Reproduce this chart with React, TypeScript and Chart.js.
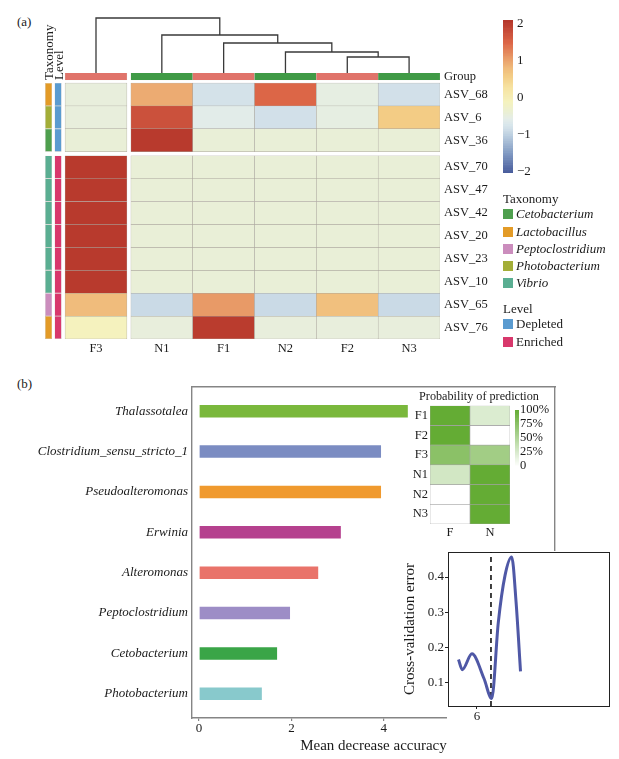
import React, { useEffect, useRef } from 'react';
import { Chart, registerables } from 'chart.js';

Chart.register(...registerables);

const SERIF = "'Liberation Serif', 'Times New Roman', Times, serif";
const INK = '#1b1b1b';
Chart.defaults.font.family = SERIF;
Chart.defaults.color = INK;

// ================= Panel (a): clustered heatmap =================
const heatColumns = ['F3', 'N1', 'F1', 'N2', 'F2', 'N3'];
const columnGroups = ['F', 'N', 'F', 'N', 'F', 'N'];
const heatRowNames = ['ASV_68', 'ASV_6', 'ASV_36', 'ASV_70', 'ASV_47', 'ASV_42', 'ASV_20', 'ASV_23', 'ASV_10', 'ASV_65', 'ASV_76'];
const rowTaxonomy = ['Lactobacillus', 'Photobacterium', 'Cetobacterium', 'Vibrio', 'Vibrio', 'Vibrio', 'Vibrio', 'Vibrio', 'Vibrio', 'Peptoclostridium', 'Lactobacillus'];
const rowLevel = ['Depleted', 'Depleted', 'Depleted', 'Enriched', 'Enriched', 'Enriched', 'Enriched', 'Enriched', 'Enriched', 'Enriched', 'Enriched'];

// z-scores per row, columns in heatColumns order
const zASV68 = [-0.45, 0.95, -0.78, 1.5, -0.5, -0.8];
const zASV6 = [-0.45, 1.75, -0.58, -0.8, -0.5, 0.6];
const zASV36 = [-0.41, 2.04, -0.41, -0.41, -0.41, -0.41];
const zASV70 = [2.04, -0.41, -0.41, -0.41, -0.41, -0.41];
const zASV47 = [2.04, -0.41, -0.41, -0.41, -0.41, -0.41];
const zASV42 = [2.04, -0.41, -0.41, -0.41, -0.41, -0.41];
const zASV20 = [2.04, -0.41, -0.41, -0.41, -0.41, -0.41];
const zASV23 = [2.04, -0.41, -0.41, -0.41, -0.41, -0.41];
const zASV10 = [2.04, -0.41, -0.41, -0.41, -0.41, -0.41];
const zASV65 = [0.8, -0.88, 1.1, -0.88, 0.75, -0.88];
const zASV76 = [-0.1, -0.45, 2.02, -0.45, -0.45, -0.45];
const heatValues = [zASV68, zASV6, zASV36, zASV70, zASV47, zASV42, zASV20, zASV23, zASV10, zASV65, zASV76];

const columnCutAfter = 1; // cutree gap after the first column
const rowCutAfter = 3; // cutree gap after the third row

// column dendrogram: [left node, right node, merge height]; mK = K-th merge
const dendrogramMerges: [string, string, number][] = [
  ['F2', 'N3', 1.6],
  ['N2', 'm0', 2.1],
  ['F1', 'm1', 3.0],
  ['N1', 'm2', 3.8],
  ['F3', 'm3', 5.5],
];

const zTicks = [-2, -1, 0, 1, 2];
const zRange = [-2.03, 2.11];

const taxonomyNames = ['Cetobacterium', 'Lactobacillus', 'Peptoclostridium', 'Photobacterium', 'Vibrio'];
const taxonomyColors: Record<string, string> = {
  Cetobacterium: '#4E9F4E',
  Lactobacillus: '#E39B27',
  Peptoclostridium: '#CB8DBD',
  Photobacterium: '#A3AE38',
  Vibrio: '#5AAE92',
};
const levelNames = ['Depleted', 'Enriched'];
const levelColors: Record<string, string> = { Depleted: '#5A9BD0', Enriched: '#D8386C' };
const groupColors: Record<string, string> = { F: '#E0736A', N: '#409A46' };

const zStops: [number, string][] = [
  [-2.05, '#44589A'],
  [-1.5, '#8099C2'],
  [-1.0, '#BCD0E0'],
  [-0.85, '#CEDDE7'],
  [-0.7, '#DAE7EC'],
  [-0.55, '#E4EDE8'],
  [-0.41, '#E9EFD7'],
  [-0.1, '#F5F2BE'],
  [0.3, '#F6E2A0'],
  [0.6, '#F3CC85'],
  [0.8, '#F0BC7C'],
  [1.1, '#E89A67'],
  [1.5, '#DC6647'],
  [1.75, '#CB513C'],
  [2.11, '#B4352A'],
];

// ================= Panel (b) =================
const genera = ['Thalassotalea', 'Clostridium_sensu_stricto_1', 'Pseudoalteromonas', 'Erwinia', 'Alteromonas', 'Peptoclostridium', 'Cetobacterium', 'Photobacterium'];
const meanDecreaseAccuracy = [4.52, 3.94, 3.94, 3.07, 2.58, 1.97, 1.69, 1.36];
const genusColors = ['#7AB83C', '#7B8CC2', '#F09A2E', '#B5418E', '#E9736A', '#9D8DC6', '#3AA547', '#88C9CC'];
const mdaTicks = [0, 2, 4];

const predRows = ['F1', 'F2', 'F3', 'N1', 'N2', 'N3'];
const predCols = ['F', 'N'];
const predProbF = [1.0, 1.0, 0.75, 0.29, 0.0, 0.0];
const predProbN = [0.23, 0.0, 0.6, 1.0, 1.0, 1.0];
const predLegendTicks = [0, 0.25, 0.5, 0.75, 1];

const cvVariables = [5.868, 5.895, 5.964, 6.05, 6.105, 6.152, 6.2, 6.248, 6.279, 6.311];
const cvError = [0.166, 0.137, 0.182, 0.112, 0.055, 0.27, 0.404, 0.457, 0.33, 0.132];
const cvOptimal = 6.1;
const cvYTicks = [0.1, 0.2, 0.3, 0.4];
const cvXTicks = [6];

// ================= helpers =================
function hexRgb(h: string) {
  const n = parseInt(h.slice(1), 16);
  return [(n >> 16) & 255, (n >> 8) & 255, n & 255];
}
function mix(a: number[], b: number[], t: number) {
  const c = a.map((v, i) => Math.round(v + (b[i] - v) * t));
  return `rgb(${c[0]},${c[1]},${c[2]})`;
}
function zColor(v: number) {
  if (v <= zStops[0][0]) return zStops[0][1];
  for (let k = 1; k < zStops.length; k++) {
    if (v <= zStops[k][0]) {
      const [v0, c0] = zStops[k - 1];
      const [v1, c1] = zStops[k];
      return mix(hexRgb(c0), hexRgb(c1), (v - v0) / (v1 - v0));
    }
  }
  return zStops[zStops.length - 1][1];
}
function greenScale(p: number) {
  return mix([255, 255, 255], [100, 172, 52], p);
}

// fix an axis' box size and drop Chart.js' automatic label-overflow padding
const fit = (w?: number, h?: number) => (s: any) => {
  if (w !== undefined) s.width = w;
  if (h !== undefined) s.height = h;
  s.paddingTop = 0;
  s.paddingBottom = 0;
  s.paddingLeft = 0;
  s.paddingRight = 0;
};

const noGrid = { display: false, drawTicks: false, tickLength: 0 };

const baseOptions = {
  animation: false as const,
  responsive: true,
  maintainAspectRatio: false,
  events: [] as any[],
  plugins: { legend: { display: false }, tooltip: { enabled: false }, title: { display: false } },
};

function ChartBox({ left, top, width, height, make }: { left: number; top: number; width: number; height: number; make: () => any }) {
  const ref = useRef<HTMLCanvasElement>(null);
  useEffect(() => {
    const chart = new Chart(ref.current as HTMLCanvasElement, make());
    return () => chart.destroy();
  }, []);
  return (
    <div style={{ position: 'absolute', left, top, width, height }}>
      <canvas ref={ref} />
    </div>
  );
}

// heatmap geometry in cell units
const COL_GAP = 0.065;
const ROW_GAP = 0.175;
const colLeft = (j: number) => j + (j >= columnCutAfter ? COL_GAP : 0);
const colCenter = (j: number) => colLeft(j) + 0.5;
const rowTop = (i: number) => i + (i >= rowCutAfter ? ROW_GAP : 0);
const X_MIN = -0.325;
const X_MAX = heatColumns.length + COL_GAP;
const Y_MIN = -0.435;
const Y_MAX = heatRowNames.length + ROW_GAP;
const GROUP_BAND = [-0.435, -0.13];
const ANNOT_X = [-0.267, -0.113];
const ANNOT_W = 0.113;

const font = (size: number, style?: string) => ({ family: SERIF, size, style: style || 'normal', weight: 'normal' as const });

function makeHeatmap() {
  const cells = heatRowNames.map((name, i) => ({
    type: 'bar',
    label: name,
    xAxisID: 'x',
    yAxisID: 'y',
    data: heatColumns.map((_, j) => ({ x: colCenter(j), y: [rowTop(i), rowTop(i) + 1] })),
    backgroundColor: heatValues[i].map(zColor),
    borderColor: '#A8A29B',
    borderWidth: 0.5,
    borderSkipped: false,
    barPercentage: 1,
    categoryPercentage: 1,
    grouped: false,
  }));
  const groupBand = {
    type: 'bar',
    label: 'Group',
    xAxisID: 'x',
    yAxisID: 'y',
    data: heatColumns.map((_, j) => ({ x: colCenter(j), y: GROUP_BAND })),
    backgroundColor: columnGroups.map((g) => groupColors[g]),
    borderColor: '#CFC9C3',
    borderWidth: 0.4,
    borderSkipped: false,
    barPercentage: 1,
    categoryPercentage: 1,
    grouped: false,
  };
  const annot = (x: number, colors: string[], label: string) => ({
    type: 'bar',
    label,
    xAxisID: 'xa',
    yAxisID: 'y',
    data: heatRowNames.map((_, i) => ({ x, y: [rowTop(i), rowTop(i) + 1] })),
    backgroundColor: colors,
    borderColor: '#B5AFA8',
    borderWidth: 0.4,
    borderSkipped: false,
    barPercentage: ANNOT_W / (ANNOT_X[1] - ANNOT_X[0]),
    categoryPercentage: 1,
    grouped: false,
  });
  const rightTicks = [(GROUP_BAND[0] + GROUP_BAND[1]) / 2, ...heatRowNames.map((_, i) => rowTop(i) + 0.5)];
  const rightLabels = ['Group', ...heatRowNames];
  return {
    type: 'bar',
    data: {
      datasets: [
        ...cells,
        groupBand,
        annot(ANNOT_X[0], rowTaxonomy.map((t) => taxonomyColors[t]), 'Taxonomy'),
        annot(ANNOT_X[1], rowLevel.map((l) => levelColors[l]), 'Level'),
      ],
    },
    options: {
      ...baseOptions,
      layout: { padding: { left: 5, top: 10, right: 0, bottom: 0 } },
      scales: {
        x: {
          type: 'linear',
          position: 'bottom',
          offset: false,
          min: X_MIN,
          max: X_MAX,
          afterBuildTicks: (s: any) => {
            s.ticks = heatColumns.map((_, j) => ({ value: colCenter(j) }));
          },
          ticks: { callback: (_v: any, i: number) => heatColumns[i], font: font(12.5), color: INK, padding: 2, autoSkip: false, maxRotation: 0 },
          grid: noGrid,
          border: { display: false },
          afterFit: fit(undefined, 20),
        },
        xa: {
          type: 'linear',
          display: false,
          offset: false,
          min: X_MIN,
          max: X_MAX,
          afterBuildTicks: (s: any) => {
            s.ticks = ANNOT_X.map((v) => ({ value: v }));
          },
        },
        y: {
          type: 'linear',
          position: 'right',
          reverse: true,
          offset: false,
          min: Y_MIN,
          max: Y_MAX,
          afterBuildTicks: (s: any) => {
            s.ticks = rightTicks.map((v) => ({ value: v }));
          },
          ticks: { callback: (_v: any, i: number) => rightLabels[i], font: font(12.5), color: INK, padding: 4, autoSkip: false },
          grid: noGrid,
          border: { display: false },
          afterFit: fit(60),
        },
      },
    },
  };
}

function makeDendrogram() {
  const nodeX: Record<string, number> = {};
  const nodeH: Record<string, number> = {};
  heatColumns.forEach((c, j) => {
    nodeX[c] = colCenter(j);
    nodeH[c] = 0;
  });
  const datasets = dendrogramMerges.map(([a, b, h], k) => {
    const pts = [
      { x: nodeX[a], y: nodeH[a] },
      { x: nodeX[a], y: h },
      { x: nodeX[b], y: h },
      { x: nodeX[b], y: nodeH[b] },
    ];
    nodeX['m' + k] = (nodeX[a] + nodeX[b]) / 2;
    nodeH['m' + k] = h;
    return {
      type: 'line',
      data: pts,
      showLine: true,
      borderColor: '#3a3a3a',
      borderWidth: 1.3,
      pointRadius: 0,
      tension: 0,
      fill: false,
      clip: false,
      borderJoinStyle: 'miter',
    };
  });
  return {
    type: 'scatter',
    data: { datasets },
    options: {
      ...baseOptions,
      layout: { padding: 0 },
      scales: {
        x: { type: 'linear', display: false, min: X_MIN, max: X_MAX },
        y: { type: 'linear', display: false, min: 0, max: 6.1 },
      },
    },
  };
}

function makeZColorbar() {
  const N = 90;
  const span = zRange[1] - zRange[0];
  const slices = Array.from({ length: N }, (_, k) => {
    const lo = zRange[0] + (k * span) / N;
    return { x: 'z', y: [lo, lo + span / N] };
  });
  return {
    type: 'bar',
    data: {
      labels: ['z'],
      datasets: [
        {
          data: slices,
          backgroundColor: slices.map((s) => zColor((s.y[0] + s.y[1]) / 2)),
          borderWidth: 0,
          barPercentage: 1,
          categoryPercentage: 1,
        },
      ],
    },
    options: {
      ...baseOptions,
      layout: { padding: { left: 5, top: 5, bottom: 7, right: 0 } },
      scales: {
        x: { type: 'category', display: false },
        y: {
          type: 'linear',
          position: 'right',
          min: zRange[0],
          max: zRange[1],
          afterBuildTicks: (s: any) => {
            s.ticks = zTicks.map((v) => ({ value: v }));
          },
          ticks: { callback: (v: number) => (v < 0 ? '\u2212' + Math.abs(v) : String(v)), font: font(13), color: INK, padding: 4, autoSkip: false },
          grid: noGrid,
          border: { display: false },
          afterFit: fit(45),
        },
      },
    },
  };
}

function makeImportance() {
  const axisGrey = '#858585';
  return {
    type: 'bar',
    data: {
      datasets: [
        {
          data: genera.map((_, i) => ({ x: meanDecreaseAccuracy[i], y: i })),
          backgroundColor: genusColors,
          borderWidth: 0,
          barPercentage: 0.31,
          categoryPercentage: 1,
        },
      ],
    },
    options: {
      ...baseOptions,
      indexAxis: 'y',
      layout: { padding: { top: 7, right: 3, left: 0, bottom: 0 } },
      scales: {
        y: {
          type: 'linear',
          position: 'left',
          reverse: true,
          offset: false,
          min: -0.6,
          max: genera.length - 0.4,
          afterBuildTicks: (s: any) => {
            s.ticks = genera.map((_, i) => ({ value: i }));
          },
          ticks: { callback: (_v: any, i: number) => genera[i], font: font(13, 'italic'), color: INK, padding: 4, autoSkip: false },
          grid: noGrid,
          border: { display: true, color: axisGrey, width: 1.4 },
          afterFit: fit(192),
        },
        x: {
          type: 'linear',
          position: 'bottom',
          offset: false,
          min: -0.152,
          max: 7.706,
          afterBuildTicks: (s: any) => {
            s.ticks = mdaTicks.map((v) => ({ value: v }));
          },
          ticks: { font: font(13), color: INK, padding: 0 },
          grid: { display: true, drawOnChartArea: false, drawTicks: true, tickLength: 3, color: axisGrey, lineWidth: 1.2 },
          border: { display: true, color: axisGrey, width: 1.4 },
          title: { display: true, text: 'Mean decrease accuracy', font: font(15), color: INK, padding: { top: 0, bottom: 4 } },
          afterFit: fit(undefined, 41),
        },
        x2: {
          type: 'linear',
          position: 'top',
          ticks: { display: false },
          grid: noGrid,
          border: { display: true, color: axisGrey, width: 1.4 },
          afterFit: fit(undefined, 0),
        },
        y2: {
          type: 'linear',
          position: 'right',
          ticks: { display: false },
          grid: noGrid,
          border: { display: true, color: axisGrey, width: 1.4 },
          afterFit: fit(0),
        },
      },
    },
  };
}

function makePrediction() {
  const datasets = predRows.map((r, i) => ({
    label: r,
    data: predCols.map(() => [i, i + 1]),
    backgroundColor: [greenScale(predProbF[i]), greenScale(predProbN[i])],
    borderColor: '#A3A3A3',
    borderWidth: 0.6,
    borderSkipped: false,
    barPercentage: 1,
    categoryPercentage: 1,
    grouped: false,
  }));
  return {
    type: 'bar',
    data: { labels: predCols, datasets },
    options: {
      ...baseOptions,
      layout: { padding: 0 },
      plugins: {
        ...baseOptions.plugins,
        title: { display: true, text: 'Probability of prediction', font: font(12.2), color: INK, padding: { top: 1, bottom: 2 } },
      },
      scales: {
        x: {
          type: 'category',
          offset: true,
          ticks: { font: font(12.5), color: INK, padding: 1 },
          grid: noGrid,
          border: { display: false },
          afterFit: fit(undefined, 24),
        },
        y: {
          type: 'linear',
          position: 'left',
          reverse: true,
          min: 0,
          max: predRows.length,
          afterBuildTicks: (s: any) => {
            s.ticks = predRows.map((_, i) => ({ value: i + 0.5 }));
          },
          ticks: { callback: (_v: any, i: number) => predRows[i], font: font(12.5), color: INK, padding: 2, autoSkip: false },
          grid: noGrid,
          border: { display: false },
          afterFit: fit(25),
        },
        // empty right gutter (space for the legend drawn beside it)
        yRight: {
          type: 'linear',
          position: 'right',
          ticks: { display: false },
          grid: noGrid,
          border: { display: false },
          afterFit: fit(43),
        },
      },
    },
  };
}

function makePredColorbar() {
  const N = 40;
  const slices = Array.from({ length: N }, (_, k) => ({ x: 'p', y: [k / N, (k + 1) / N] }));
  return {
    type: 'bar',
    data: {
      labels: ['p'],
      datasets: [
        {
          data: slices,
          backgroundColor: slices.map((s) => greenScale((s.y[0] + s.y[1]) / 2)),
          borderWidth: 0,
          barPercentage: 1,
          categoryPercentage: 1,
        },
      ],
    },
    options: {
      ...baseOptions,
      layout: { padding: { left: 4, top: 5, bottom: 5, right: 0 } },
      scales: {
        x: { type: 'category', display: false },
        y: {
          type: 'linear',
          position: 'right',
          min: 0,
          max: 1,
          afterBuildTicks: (s: any) => {
            s.ticks = predLegendTicks.map((v) => ({ value: v }));
          },
          ticks: { callback: (v: number) => (v === 0 ? '0' : `${Math.round(v * 100)}%`), font: font(12.5), color: INK, padding: 1, autoSkip: false },
          grid: noGrid,
          border: { display: false },
          afterFit: fit(40),
        },
      },
    },
  };
}

const CV_Y = [0.034, 0.471];
function makeCrossValidation() {
  const whiteBack = {
    id: 'whiteBack',
    beforeDraw(chart: any) {
      const { ctx, chartArea, width, height } = chart;
      ctx.save();
      ctx.fillStyle = '#ffffff';
      ctx.fillRect(chartArea.left - 1, chartArea.top - 1, width - chartArea.left + 1, height - chartArea.top + 1);
      ctx.restore();
    },
  };
  const box = { display: true, color: '#222', width: 1 };
  return {
    type: 'scatter',
    data: {
      datasets: [
        {
          type: 'line',
          data: cvVariables.map((x, i) => ({ x, y: cvError[i] })),
          showLine: true,
          borderColor: '#4F58A6',
          borderWidth: 3,
          pointRadius: 0,
          cubicInterpolationMode: 'monotone',
          fill: false,
        },
        {
          type: 'line',
          data: [
            { x: cvOptimal, y: CV_Y[0] },
            { x: cvOptimal, y: CV_Y[1] },
          ],
          showLine: true,
          borderColor: '#111',
          borderWidth: 1.6,
          borderDash: [5, 4],
          pointRadius: 0,
          fill: false,
        },
      ],
    },
    plugins: [whiteBack],
    options: {
      ...baseOptions,
      layout: { padding: { top: 1, right: 6, left: 0, bottom: 0 } },
      scales: {
        x: {
          type: 'linear',
          position: 'bottom',
          min: 5.793,
          max: 6.943,
          afterBuildTicks: (s: any) => {
            s.ticks = cvXTicks.map((v) => ({ value: v }));
          },
          ticks: { font: font(13), color: INK, padding: 0 },
          grid: { display: true, drawOnChartArea: false, tickLength: 3, color: '#222' },
          border: box,
          afterFit: fit(undefined, 18),
        },
        y: {
          type: 'linear',
          position: 'left',
          min: CV_Y[0],
          max: CV_Y[1],
          afterBuildTicks: (s: any) => {
            s.ticks = cvYTicks.map((v) => ({ value: v }));
          },
          ticks: { callback: (v: number) => v.toFixed(1), font: font(13), color: INK, padding: 1 },
          grid: { display: true, drawOnChartArea: false, tickLength: 3, color: '#222' },
          border: box,
          title: { display: true, text: 'Cross-validation error', font: font(15), color: INK, padding: { top: 3, bottom: 0 } },
          afterFit: fit(50),
        },
        x2: {
          type: 'linear',
          position: 'top',
          ticks: { display: false },
          grid: noGrid,
          border: box,
          afterFit: fit(undefined, 0),
        },
        y2: {
          type: 'linear',
          position: 'right',
          ticks: { display: false },
          grid: noGrid,
          border: box,
          afterFit: fit(0),
        },
      },
    },
  };
}

const textStyle: React.CSSProperties = { position: 'absolute', fontFamily: SERIF, fontSize: 13, color: INK, lineHeight: '16px', whiteSpace: 'nowrap' };

function LegendItem({ y, color, label, italic }: { y: number; color: string; label: string; italic?: boolean }) {
  return (
    <>
      <div style={{ position: 'absolute', left: 503, top: y - 5, width: 10, height: 10, background: color }} />
      <div style={{ ...textStyle, left: 516, top: y - 8, fontStyle: italic ? 'italic' : 'normal' }}>{label}</div>
    </>
  );
}

const taxonomyLegendY = [214, 232, 249, 266, 283];
const levelLegendY = [324, 342];

export default function App() {
  return (
    <div style={{ position: 'absolute', left: 0, top: 0, width: 619, height: 759, background: '#ffffff', overflow: 'hidden' }}>
      <div style={{ ...textStyle, left: 17, top: 14 }}>(a)</div>
      <div style={{ ...textStyle, left: 17, top: 376 }}>(b)</div>

      <ChartBox left={45} top={12} width={395} height={61} make={makeDendrogram} />
      <ChartBox left={40} top={63} width={460} height={296} make={makeHeatmap} />
      <ChartBox left={498} top={15} width={60} height={165} make={makeZColorbar} />

      <div style={{ ...textStyle, left: 40.5, top: 80, transformOrigin: '0 0', transform: 'rotate(-90deg)', fontSize: 13, lineHeight: '15px' }}>Taxonomy</div>
      <div style={{ ...textStyle, left: 50.5, top: 80, transformOrigin: '0 0', transform: 'rotate(-90deg)', fontSize: 13, lineHeight: '15px' }}>Level</div>

      <div style={{ ...textStyle, left: 503, top: 191 }}>Taxonomy</div>
      {taxonomyNames.map((t, k) => (
        <LegendItem key={t} y={taxonomyLegendY[k]} color={taxonomyColors[t]} label={t} italic />
      ))}
      <div style={{ ...textStyle, left: 503, top: 301 }}>Level</div>
      {levelNames.map((l, k) => (
        <LegendItem key={l} y={levelLegendY[k]} color={levelColors[l]} label={l} />
      ))}

      <ChartBox left={0} top={380} width={558} height={379} make={makeImportance} />
      <ChartBox left={405} top={388} width={148} height={160} make={makePrediction} />
      <ChartBox left={511} top={405} width={48} height={66} make={makePredColorbar} />
      <ChartBox left={398} top={551} width={217} height={173} make={makeCrossValidation} />
    </div>
  );
}
